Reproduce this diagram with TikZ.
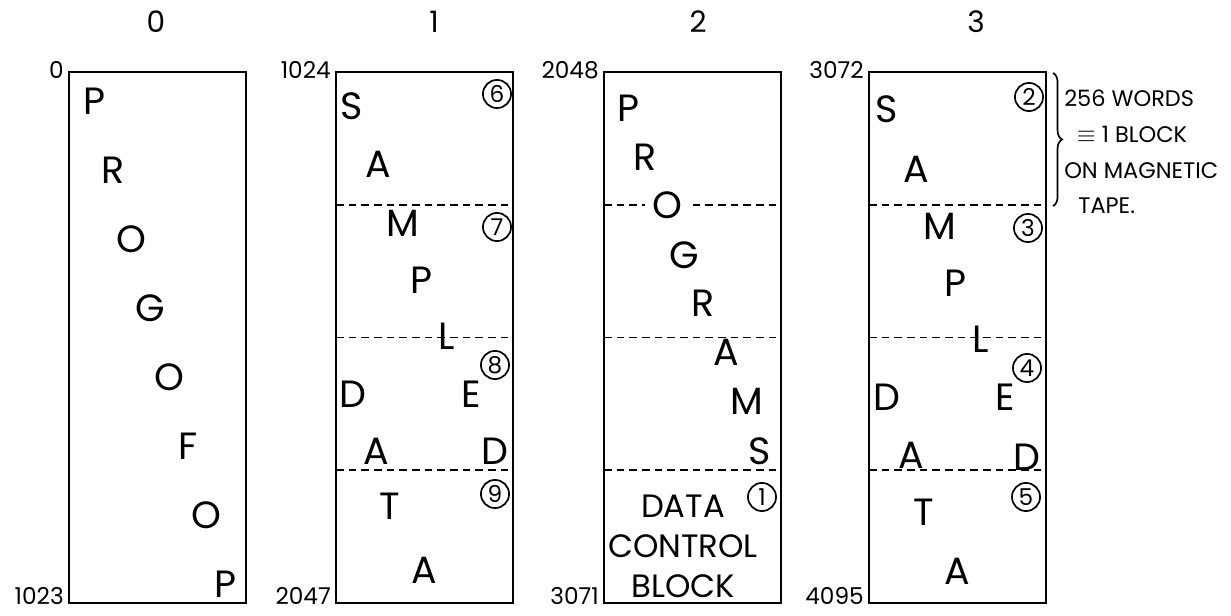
\documentclass[tikz,border=0pt]{standalone}
\usepackage{fontspec}
\setmainfont{Poppins}
\usetikzlibrary{decorations.pathreplacing}

\begin{document}
\begin{tikzpicture}[
  x=0.025cm, y=-0.025cm,
  every node/.style={inner sep=0pt},
  bank/.style={draw, line width=1.5pt},
  blocksep/.style={line width=1.2pt, dash pattern=on 5.5pt off 3.5pt},
  letter/.style={font=\fontsize{27}{30}\selectfont},
  blocknum/.style={draw, circle, line width=1.2pt, minimum size=20pt,
                   font=\fontsize{16.5}{17}\selectfont},
  addr/.style={font=\fontsize{16.5}{18}\selectfont},
  head/.style={font=\fontsize{21}{24}\selectfont},
  note/.style={font=\fontsize{16}{25.4}\selectfont, align=left}
]
\useasboundingbox (0,0) rectangle (1231,616);

% the four banks with their addresses
\foreach \i/\xl/\xh/\lo/\hi in {0/69/156/0/1023, 1/336/434/1024/2047,
                                2/604/698/2048/3071, 3/869/976/3072/4095} {
  \draw[bank] (\xl,72) rectangle ++(177,531);
  \node[head] (head\i) at (\xh,22) {\i};
  \node[addr, anchor=east] (lo\i) at (\xl-5,70) {\lo};
  \node[addr, anchor=east] (hi\i) at (\xl-5,596) {\hi};
}
% 256-word blocks
\foreach \xl in {336,604,869}
  \foreach \k in {1,2,3}
    \draw[blocksep] (\xl,72+132.75*\k) -- ++(177,0);

% bank 0
\foreach \c [count=\n from 0] in {P,R,O,G,O,F,O,P}
  \node[letter] (a\n) at (94+18.8*\n,101+69*\n) {\c};

% bank 1
\foreach \c/\x/\y [count=\n] in {S/352/106, A/378/164, M/403/223, P/421/280,
    L/447/336, D/353/394, E/471/394, A/376/451, D/495/451, T/390/506, A/424/570}
  \node[letter] (b\n) at (\x,\y) {\c};
\node[blocknum] (n6) at (497,94) {6};
\node[blocknum] (n7) at (497,227) {7};
\node[blocknum] (n8) at (495,365) {8};
\node[blocknum] (n9) at (495,494) {9};

% bank 2
\foreach \c/\x/\y [count=\n] in {P/628/108, R/645/157, G/684/255,
    R/703/303, A/726/352, M/747/401, S/760/451}
  \node[letter] (c\n) at (\x,\y) {\c};
\node[letter, fill=white, inner xsep=5pt, inner ysep=1pt] (c0) at (667,205) {O};
\node[blocknum] (n1) at (762,497) {1};
\node[font=\fontsize{23}{28.4}\selectfont, align=center] (dcb) at (683,546)
  {DATA\\CONTROL\\BLOCK};

% bank 3
\foreach \c/\x/\y [count=\n] in {S/887/109, A/916/169, M/940/226, P/955/283,
    L/981/339, D/887/397, E/1005/397, A/911/455, D/1027/457, T/924/512, A/957/571}
  \node[letter] (d\n) at (\x,\y) {\c};
\node[blocknum] (n2) at (1029,97) {2};
\node[blocknum] (n3) at (1028,228) {3};
\node[blocknum] (n4) at (1027,368) {4};
\node[blocknum] (n5) at (1026,497) {5};

% one block on tape
\coordinate (bt) at (1053,73);
\coordinate (bb) at (1053,206);
\draw[decorate, decoration={brace, amplitude=6.5pt}, line width=1.2pt] (bt) -- (bb);
\node[note, anchor=west] (tape) at (1064,152)
  {256 WORDS\\\hspace*{9pt}$\equiv$ 1 BLOCK\\ON MAGNETIC\\\hspace*{10pt}TAPE.};
\end{tikzpicture}
\end{document}
